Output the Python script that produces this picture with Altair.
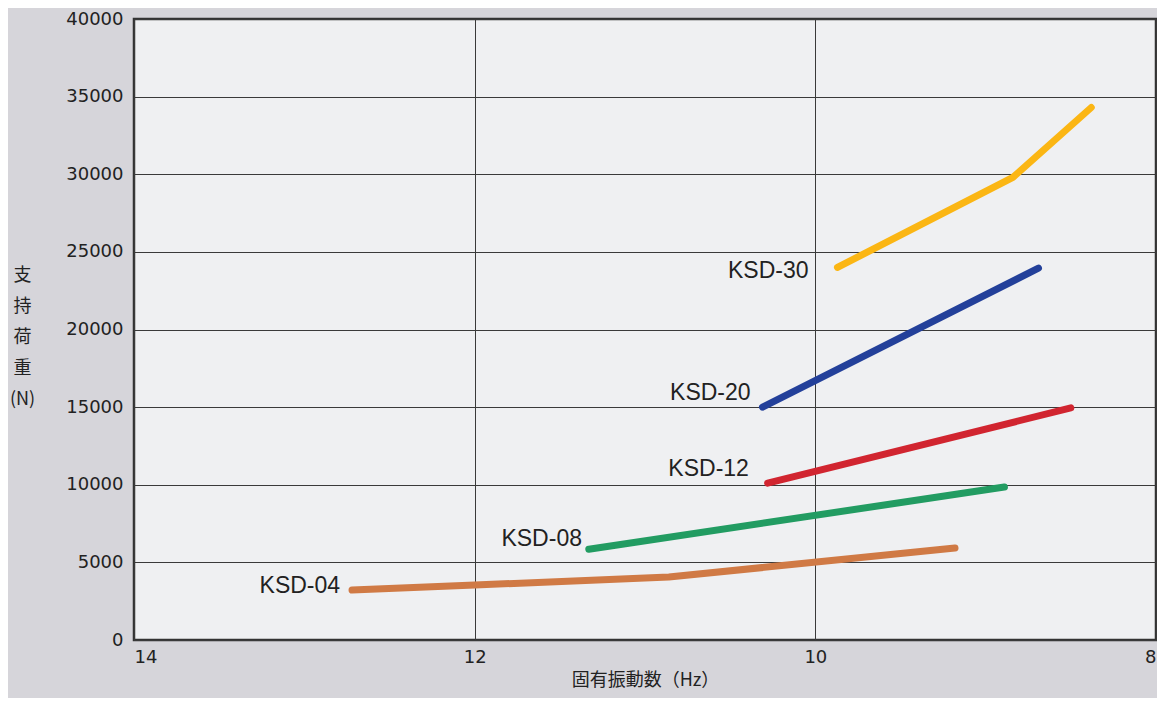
import altair as alt
import pandas as pd

series = ["KSD-30", "KSD-20", "KSD-12", "KSD-08", "KSD-04"]
colors = ["#fbb614", "#23409a", "#d12530", "#229c62", "#d07a45"]

ksd30_x = [9.87, 8.84, 8.38]
ksd30_y = [24000, 29800, 34300]
ksd20_x = [10.31, 8.69]
ksd20_y = [15000, 23950]
ksd12_x = [10.28, 8.50]
ksd12_y = [10100, 14950]
ksd08_x = [11.33, 8.89]
ksd08_y = [5850, 9850]
ksd04_x = [12.72, 12.0, 10.86, 9.18]
ksd04_y = [3220, 3540, 4060, 5920]

label_x = [10.04, 10.38, 10.39, 11.37, 12.79]
label_y = [23750, 15900, 11000, 6500, 3480]

xs = [ksd30_x, ksd20_x, ksd12_x, ksd08_x, ksd04_x]
ys = [ksd30_y, ksd20_y, ksd12_y, ksd08_y, ksd04_y]

rows = []
for name, sx, sy in zip(series, xs, ys):
    for i, (a, b) in enumerate(zip(sx, sy)):
        rows.append({"series": name, "hz": a, "load": b, "order": i})
df = pd.DataFrame(rows)
labels = pd.DataFrame({"series": series, "hz": label_x, "load": label_y})

xscale = alt.Scale(domain=[8, 14], reverse=True, nice=False, zero=False)
yscale = alt.Scale(domain=[0, 40000], nice=False)

base_x = alt.X("hz:Q", scale=xscale,
               axis=alt.Axis(values=[14, 12, 10, 8], format="d", title="固有振動数（Hz）",
                             titleFont="Noto Sans CJK JP", titleFontSize=18,
                             titleFontWeight="normal", titleColor="#222",
                             titlePadding=5, labelFontSize=18, labelColor="#222",
                             labelFont="DejaVu Sans", labelPadding=8,
                             tickSize=0, domain=False, gridColor="#3a3a3a",
                             gridWidth=1, gridOpacity=1))
base_y = alt.Y("load:Q", scale=yscale,
               axis=alt.Axis(values=list(range(0, 40001, 5000)), format="d",
                             title=["支", "持", "荷", "重", "(N)"],
                             titleAngle=0, titleFont="Noto Sans CJK JP",
                             titleFontSize=18, titleFontWeight="normal",
                             titleColor="#222", titleLineHeight=31,
                             titleX=-112, titleY=247, titleAlign="center",
                             titleBaseline="top",
                             labelFontSize=18, labelColor="#222",
                             labelFont="DejaVu Sans", labelPadding=11,
                             tickSize=0, domain=False, gridColor="#3a3a3a",
                             gridWidth=1, gridOpacity=1))

lines = alt.Chart(df).mark_line(strokeWidth=7, strokeCap="round", strokeJoin="round").encode(
    x=base_x,
    y=base_y,
    color=alt.Color("series:N", scale=alt.Scale(domain=series, range=colors), legend=None),
    order="order:Q",
    detail="series:N",
)

text = alt.Chart(labels).mark_text(align="right", baseline="middle", fontSize=23,
                                   font="Liberation Sans", color="#222").encode(
    x=alt.X("hz:Q", scale=xscale),
    y=alt.Y("load:Q", scale=yscale),
    text="series:N",
)

chart = alt.layer(lines, text).properties(
    width=1022, height=621,
    autosize=alt.AutoSizeParams(type="none"),
    padding={"left": 126, "top": 11, "right": 1, "bottom": 58},
    background="#d6d5da",
).configure_view(fill="#eff0f2", stroke="#333", strokeWidth=2.5)

chart.save("out.html", embed_options={"renderer": "svg", "actions": False})
